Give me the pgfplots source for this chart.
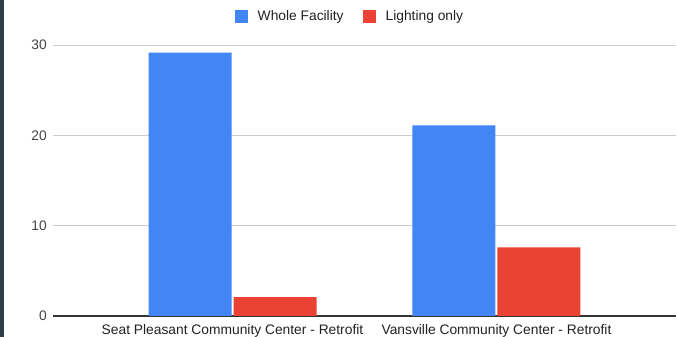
\documentclass[border=0pt]{standalone}
\usepackage{pgfplots}
\pgfplotsset{compat=1.18}
\usepackage{fontspec}
\setmainfont{Liberation Sans}

\definecolor{wholeblue}{HTML}{4285F4}
\definecolor{lightred}{HTML}{EA4335}
\definecolor{gridgray}{HTML}{CCCCCC}
\definecolor{axisdark}{HTML}{333333}
\definecolor{ticktext}{HTML}{444444}
\definecolor{labeltext}{HTML}{222222}
\definecolor{edgeslate}{HTML}{2F3E4B}

\begin{document}
\begin{tikzpicture}[x=1pt,y=1pt]
  % page frame and dark left edge
  \path[use as bounding box] (0,0) rectangle (677,337);
  \fill[white] (0,0) rectangle (677,337);
  \fill[edgeslate] (0,0) rectangle (4,337);

  \begin{axis}[
    at={(53pt,21pt)}, anchor=south west,
    scale only axis,
    width=623pt, height=271pt,
    xmin=-0.68, xmax=1.68,
    ymin=0, ymax=30,
    ybar=2pt,
    bar width=83pt,
    xtick={0,1},
    xticklabels={Seat Pleasant Community Center - Retrofit, Vansville Community Center - Retrofit},
    ytick={0,10,20,30},
    major tick length=0pt,
    axis line style={draw=none},
    ymajorgrids,
    grid style={gridgray, line width=0.8pt},
    /pgf/number format/assume math mode=true,
    tick label style={font=\fontsize{13.8}{15}\selectfont},
    yticklabel style={text=ticktext, anchor=east, inner sep=0pt, xshift=-6pt},
    xticklabel style={text=labeltext, anchor=base, inner sep=0pt, yshift=-19pt},
    legend columns=2,
    legend style={
      at={(0.475,1.105)}, anchor=center,
      draw=none, fill=none,
      font=\fontsize{13.8}{15}\selectfont,
      text=labeltext,
      nodes={inner xsep=0pt},
      /tikz/every even column/.append style={column sep=19pt},
    },
    legend image code/.code={%
      \fill[#1] (0pt,-6.5pt) rectangle (13pt,6.5pt);
      \path (23pt,0pt);},
    extra y ticks={0},
    extra y tick labels={},
    extra y tick style={grid style={axisdark, line width=1.2pt}},
  ]
    \addplot[fill=wholeblue, draw=none] coordinates {(0,29.15) (1,21.1)};
    \addplot[fill=lightred, draw=none] coordinates {(0,2.1) (1,7.6)};
    \legend{Whole Facility, Lighting only}
  \end{axis}
\end{tikzpicture}
\end{document}
